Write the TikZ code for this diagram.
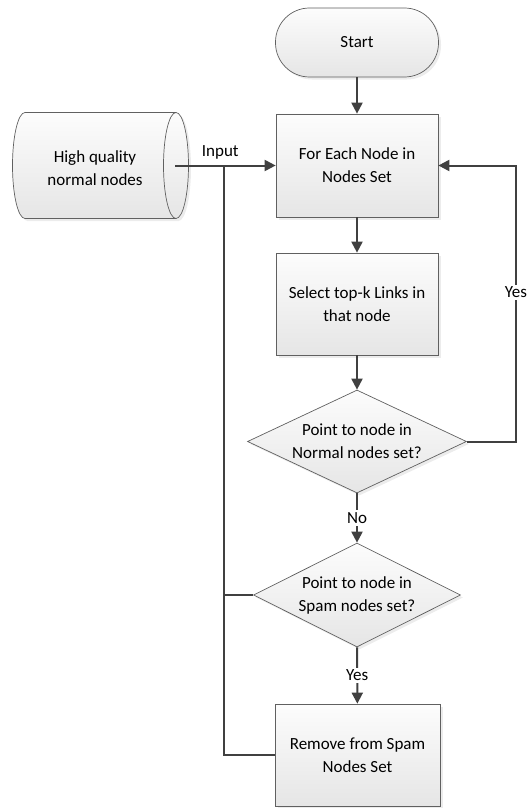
\documentclass[tikz,border=0pt]{standalone}
\usepackage{fontspec}
\setmainfont{Carlito}
\usetikzlibrary{shapes.geometric,arrows.meta,shadows}

\definecolor{edgegray}{HTML}{606060}
\definecolor{linegray}{HTML}{404040}

\tikzset{
  shapebase/.style={draw=edgegray, line width=0.7bp, top color=black!1, bottom color=black!10,
    drop shadow={shadow xshift=2.5bp, shadow yshift=-2.5bp, fill=black!15}},
  process/.style={shapebase, rectangle, minimum width=162bp, minimum height=103bp,
    inner sep=0pt, align=center},
  terminal/.style={shapebase, rectangle, rounded corners=34bp, minimum width=163bp,
    minimum height=69bp},
  decision/.style={shapebase, diamond, inner sep=0pt},
  dtext/.style={align=center, inner sep=0pt},
  conn/.style={draw=linegray, line width=2bp, -{Triangle[length=11bp,width=11bp]}},
  wire/.style={draw=linegray, line width=2bp},
  lbl/.style={fill=white, inner sep=2bp},
}

\begin{document}
\begin{tikzpicture}[x=1bp, y=-1bp, font=\fontsize{17bp}{23bp}\selectfont]
\useasboundingbox (0,0) rectangle (530,808);

% main column
\node[terminal] (start) at (357,42.5) {Start};
\node[process] (b1) at (357,165.5) {For Each Node in\\Nodes Set};
\node[process, minimum height=102bp] (b2) at (357,304) {Select top-k Links in\\that node};
\node[decision, minimum width=219bp, minimum height=103bp] (d1) at (357,441.5) {};
\node[dtext] (t1) at (d1) {Point to node in\\Normal nodes set?};
\node[decision, minimum width=207bp, minimum height=104bp] (d2) at (357,595) {};
\node[dtext] (t2) at (d2) {Point to node in\\Spam nodes set?};
\node[process, minimum width=165bp, minimum height=102bp] (b3) at (357.5,755)
  {Remove from Spam\\Nodes Set};

% data source: horizontal cylinder with its open face on the right
\path[shapebase] (25,112.5) -- (176,112.5)
  arc[start angle=90, end angle=-90, x radius=12.5bp, y radius=53bp]
  -- (25,218.5)
  arc[start angle=270, end angle=90, x radius=12.5bp, y radius=53bp] -- cycle;
\draw[draw=edgegray, line width=0.7bp] (176,112.5)
  arc[start angle=90, end angle=270, x radius=12.5bp, y radius=53bp];
\node[align=center] (dbtext) at (95,168) {High quality\\normal nodes};

% routing points
\coordinate (src) at (175,165.5);
\coordinate (junc) at (224,165.5);
\coordinate (loopc) at (516,441.5);

% connectors
\draw[conn] (start) -- (b1);
\draw[conn] (b1) -- (b2);
\draw[conn] (b2) -- (d1);
\draw[conn] (d1) -- node[lbl] {No} (d2);
\draw[conn] (d2) -- node[lbl] {Yes} (b3);
\draw[conn] (d1.east) -- (loopc) |- node[lbl, pos=0.27] {Yes} (b1.east);
\draw[conn] (src) -- node[pos=0.45, above=5bp, inner sep=0pt] {Input} (b1.west);
\draw[wire] (b3.west) -| (junc);
\draw[wire] (d2.west) -- (d2.west -| junc);
\end{tikzpicture}
\end{document}
